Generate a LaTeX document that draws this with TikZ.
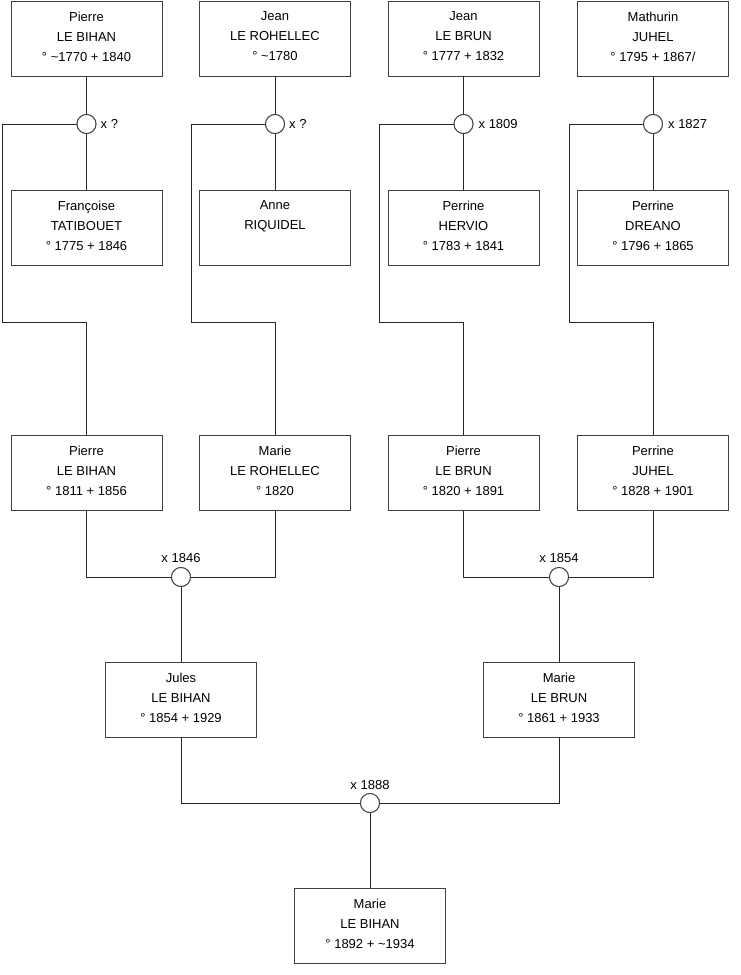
\documentclass[tikz,border=0pt]{standalone}
\usepackage{fontspec}
\setmainfont{Liberation Sans}
\begin{document}
\begin{tikzpicture}[x=1pt,y=-1pt,
  person/.style={draw=black!75,line width=0.9pt,fill=white,minimum width=151pt,minimum height=75pt,inner sep=0pt},
  ptext/.style={align=center,anchor=north,inner sep=0pt,font=\fontsize{13}{20}\selectfont},
  wed/.style={circle,draw=black!75,line width=0.9pt,fill=white,minimum size=19pt,inner sep=0pt},
  wlab/.style={inner sep=0pt,font=\fontsize{13}{15}\selectfont},
  link/.style={draw=black!85,line width=0.9pt}]
\useasboundingbox (0,0) rectangle (740,975);

% top row
\node[person] (t1) at (86.5,38.5) {};
\node[person] (t2) at (275,38.5) {};
\node[person] (t3) at (463.5,38.5) {};
\node[person] (t4) at (653,38.5) {};
% second row (spouses)
\node[person] (s1) at (86.5,227.5) {};
\node[person] (s2) at (275,227.5) {};
\node[person] (s3) at (463.5,227.5) {};
\node[person] (s4) at (653,227.5) {};
% third row
\node[person] (b1) at (86.5,473) {};
\node[person] (b2) at (275,473) {};
\node[person] (b3) at (463.5,473) {};
\node[person] (b4) at (653,473) {};
% fourth row
\node[person] (j1) at (181,699.5) {};
\node[person] (j2) at (559,699.5) {};
% last
\node[person] (f1) at (370,926) {};

% texts
\node[ptext] (t1t) at ([yshift=-11pt]t1.north) {Pierre\\LE BIHAN\\° \textasciitilde1770 + 1840};
\node[ptext] (t2t) at ([yshift=-11pt]t2.north) {Jean\\LE ROHELLEC\\° \textasciitilde1780};
\node[ptext] (t3t) at ([yshift=-11pt]t3.north) {Jean\\LE BRUN\\° 1777 + 1832};
\node[ptext] (t4t) at ([yshift=-11pt]t4.north) {Mathurin\\JUHEL\\° 1795 + 1867/};
\node[ptext] (s1t) at ([yshift=-11pt]s1.north) {Françoise\\TATIBOUET\\° 1775 + 1846};
\node[ptext] (s2t) at ([yshift=-11pt]s2.north) {Anne\\RIQUIDEL};
\node[ptext] (s3t) at ([yshift=-11pt]s3.north) {Perrine\\HERVIO\\° 1783 + 1841};
\node[ptext] (s4t) at ([yshift=-11pt]s4.north) {Perrine\\DREANO\\° 1796 + 1865};
\node[ptext] (b1t) at ([yshift=-11pt]b1.north) {Pierre\\LE BIHAN\\° 1811 + 1856};
\node[ptext] (b2t) at ([yshift=-11pt]b2.north) {Marie\\LE ROHELLEC\\° 1820};
\node[ptext] (b3t) at ([yshift=-11pt]b3.north) {Pierre\\LE BRUN\\° 1820 + 1891};
\node[ptext] (b4t) at ([yshift=-11pt]b4.north) {Perrine\\JUHEL\\° 1828 + 1901};
\node[ptext] (j1t) at ([yshift=-11pt]j1.north) {Jules\\LE BIHAN\\° 1854 + 1929};
\node[ptext] (j2t) at ([yshift=-11pt]j2.north) {Marie\\LE BRUN\\° 1861 + 1933};
\node[ptext] (f1t) at ([yshift=-11pt]f1.north) {Marie\\LE BIHAN\\° 1892 + \textasciitilde1934};

% corner coordinates
\coordinate (k1) at (2.5,322);
\coordinate (k2) at (191,322);
\coordinate (k3) at (379,322);
\coordinate (k4) at (569,322);

% marriage circles
\node[wed] (c1) at (86.5,124) {};
\node[wed] (c2) at (275,124) {};
\node[wed] (c3) at (463.5,124) {};
\node[wed] (c4) at (653,124) {};
\node[wed] (m1) at (181,577) {};
\node[wed] (m2) at (559,577) {};
\node[wed] (m3) at (370,803) {};

% connectors
\draw[link] (t1.south) -- (c1.north);
\draw[link] (c1.south) -- (s1.north);
\draw[link] (c1.west) -| (k1) -- (k1 -| b1.north) -- (b1.north);
\draw[link] (t2.south) -- (c2.north);
\draw[link] (c2.south) -- (s2.north);
\draw[link] (c2.west) -| (k2) -- (k2 -| b2.north) -- (b2.north);
\draw[link] (t3.south) -- (c3.north);
\draw[link] (c3.south) -- (s3.north);
\draw[link] (c3.west) -| (k3) -- (k3 -| b3.north) -- (b3.north);
\draw[link] (t4.south) -- (c4.north);
\draw[link] (c4.south) -- (s4.north);
\draw[link] (c4.west) -| (k4) -- (k4 -| b4.north) -- (b4.north);

\draw[link] (b1.south) |- (m1.west);
\draw[link] (b2.south) |- (m1.east);
\draw[link] (m1.south) -- (j1.north);
\draw[link] (b3.south) |- (m2.west);
\draw[link] (b4.south) |- (m2.east);
\draw[link] (m2.south) -- (j2.north);
\draw[link] (j1.south) |- (m3.west);
\draw[link] (j2.south) |- (m3.east);
\draw[link] (m3.south) -- (f1.north);

% redraw circles on top of connectors
\foreach \c in {c1,c2,c3,c4,m1,m2,m3} { \node[wed] at (\c) {}; }

% marriage labels
\node[wlab,anchor=west] (l1) at ([xshift=4pt]c1.east) {x ?};
\node[wlab,anchor=west] (l2) at ([xshift=4pt]c2.east) {x ?};
\node[wlab,anchor=west] (l3) at ([xshift=5pt]c3.east) {x 1809};
\node[wlab,anchor=west] (l4) at ([xshift=5pt]c4.east) {x 1827};
\node[wlab] (l5) at (181,558) {x 1846};
\node[wlab] (l6) at (559,558) {x 1854};
\node[wlab] (l7) at (370,785) {x 1888};
\end{tikzpicture}
\end{document}
